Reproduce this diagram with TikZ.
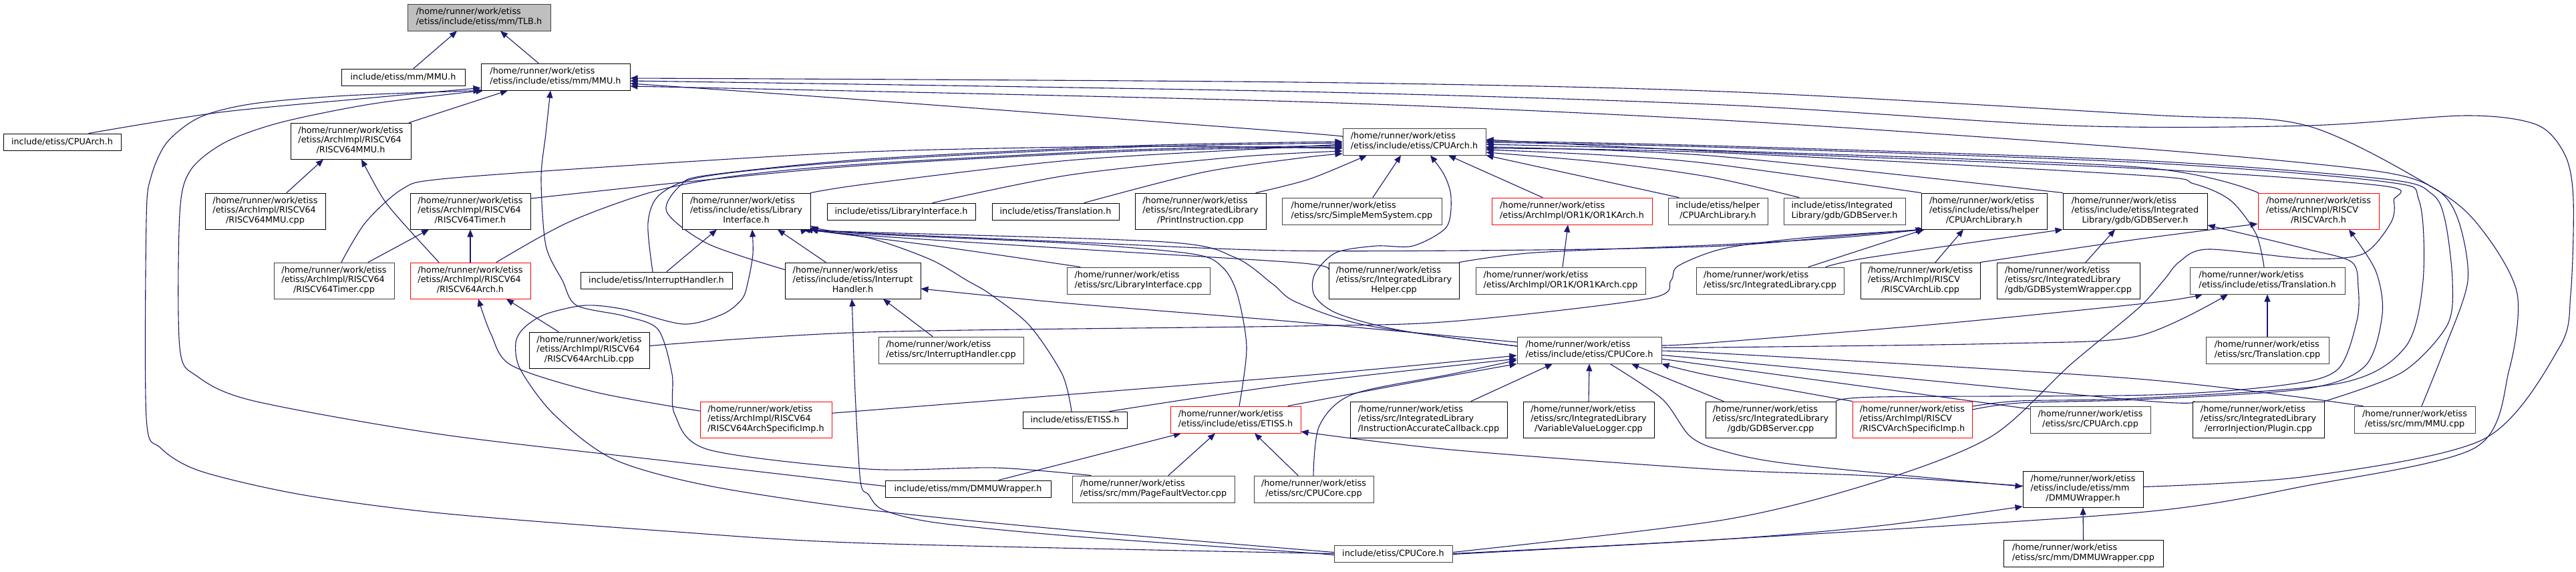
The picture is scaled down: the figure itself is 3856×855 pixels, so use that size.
\documentclass[tikz,border=0pt]{standalone}
\usepackage{fontspec}
\setmainfont{DejaVu Sans}
\usetikzlibrary{arrows.meta}
\definecolor{edgeblue}{HTML}{191970}
\definecolor{bordergrey}{HTML}{404040}
\definecolor{tlbgrey}{HTML}{BFBFBF}
\newcommand\nodefont{\fontsize{12.8}{14.3}\selectfont}
\newcommand\tlines[1]{\begin{tabular}{@{}l@{}}#1\end{tabular}}
\newcommand\lastl[1]{\multicolumn{1}{@{}c@{}}{#1}}
\newcommand\gnode[7]{\node[#6,minimum width=#4pt,minimum height=#5pt] (#1) at (#2,#3) {#7};}
\pgfdeclarelayer{bg}\pgfdeclarelayer{edges}\pgfsetlayers{bg,edges,main}
\begin{document}
\begin{tikzpicture}[x=1pt,y=-1pt,
  box/.style={draw=black, fill=white, line width=1pt, inner sep=1pt, font=\nodefont, text=black},
  gbox/.style={box, draw=bordergrey},
  rbox/.style={box, draw=red},
  tbox/.style={box, draw=bordergrey, fill=tlbgrey},
  dep/.style={draw=edgeblue, line width=1.1pt, line cap=round, line join=round, -{Triangle[length=11pt,width=9pt]}}]
\begin{pgfonlayer}{bg}\fill[white] (0,0) rectangle (3856,855);\end{pgfonlayer}
\useasboundingbox (0,0) rectangle (3856,855);
% ---------------- nodes
\gnode{tlb}{717}{26}{214}{40}{tbox}{\tlines{/home/runner/work/etiss\\\lastl{/etiss/include/etiss/mm/TLB.h}}}
\gnode{mmuinc}{603.5}{115.5}{185}{25}{box}{include/etiss/mm/MMU.h}
\gnode{mmu}{831.5}{115}{223}{40}{box}{\tlines{/home/runner/work/etiss\\\lastl{/etiss/include/etiss/mm/MMU.h}}}
\gnode{cpuarchinc}{93}{212.5}{176}{25}{box}{include/etiss/CPUArch.h}
\gnode{rv64mmuh}{525}{211}{180}{54}{box}{\tlines{/home/runner/work/etiss\\/etiss/ArchImpl/RISCV64\\\lastl{/RISCV64MMU.h}}}
\gnode{cpuarch}{2117}{212}{214}{40}{gbox}{\tlines{/home/runner/work/etiss\\\lastl{/etiss/include/etiss/CPUArch.h}}}
\gnode{rv64mmucpp}{397}{316}{180}{54}{box}{\tlines{/home/runner/work/etiss\\/etiss/ArchImpl/RISCV64\\\lastl{/RISCV64MMU.cpp}}}
\gnode{rv64timerh}{704}{316}{180}{54}{box}{\tlines{/home/runner/work/etiss\\/etiss/ArchImpl/RISCV64\\\lastl{/RISCV64Timer.h}}}
\gnode{libif}{1117}{316}{192}{54}{box}{\tlines{/home/runner/work/etiss\\/etiss/include/etiss/Library\\\lastl{Interface.h}}}
\gnode{libifinc}{1349}{316.5}{222}{25}{box}{include/etiss/LibraryInterface.h}
\gnode{transinc}{1580}{316.5}{190}{25}{box}{include/etiss/Translation.h}
\gnode{printinstr}{1797}{316}{196}{54}{box}{\tlines{/home/runner/work/etiss\\/etiss/src/IntegratedLibrary\\\lastl{/PrintInstruction.cpp}}}
\gnode{simplemem}{2038.5}{316}{239}{40}{gbox}{\tlines{/home/runner/work/etiss\\\lastl{/etiss/src/SimpleMemSystem.cpp}}}
\gnode{or1karch}{2353}{316}{240}{40}{rbox}{\tlines{/home/runner/work/etiss\\\lastl{/etiss/ArchImpl/OR1K/OR1KArch.h}}}
\gnode{cpuarchlibinc}{2571.5}{316}{149}{40}{gbox}{\tlines{include/etiss/helper\\\lastl{/CPUArchLibrary.h}}}
\gnode{gdbserverinc}{2761}{316}{182}{40}{gbox}{\tlines{include/etiss/Integrated\\\lastl{Library/gdb/GDBServer.h}}}
\gnode{cpuarchlib}{2970}{316}{188}{54}{box}{\tlines{/home/runner/work/etiss\\/etiss/include/etiss/helper\\\lastl{/CPUArchLibrary.h}}}
\gnode{gdbserverh}{3196}{316}{216}{54}{box}{\tlines{/home/runner/work/etiss\\/etiss/include/etiss/Integrated\\\lastl{Library/gdb/GDBServer.h}}}
\gnode{riscvarch}{3470.5}{316}{181}{54}{rbox}{\tlines{/home/runner/work/etiss\\/etiss/ArchImpl/RISCV\\\lastl{/RISCVArch.h}}}
\gnode{rv64timercpp}{500}{420}{180}{54}{gbox}{\tlines{/home/runner/work/etiss\\/etiss/ArchImpl/RISCV64\\\lastl{/RISCV64Timer.cpp}}}
\gnode{rv64arch}{704}{420}{180}{54}{rbox}{\tlines{/home/runner/work/etiss\\/etiss/ArchImpl/RISCV64\\\lastl{/RISCV64Arch.h}}}
\gnode{intrinc}{982.5}{419.5}{227}{25}{box}{include/etiss/InterruptHandler.h}
\gnode{intr}{1276.5}{420}{203}{54}{box}{\tlines{/home/runner/work/etiss\\/etiss/include/etiss/Interrupt\\\lastl{Handler.h}}}
\gnode{libifcpp}{1704}{420}{214}{40}{gbox}{\tlines{/home/runner/work/etiss\\\lastl{/etiss/src/LibraryInterface.cpp}}}
\gnode{ilhelper}{2086.5}{420}{195}{54}{box}{\tlines{/home/runner/work/etiss\\/etiss/src/IntegratedLibrary\\\lastl{Helper.cpp}}}
\gnode{or1kcpp}{2336}{420}{254}{40}{gbox}{\tlines{/home/runner/work/etiss\\\lastl{/etiss/ArchImpl/OR1K/OR1KArch.cpp}}}
\gnode{ilcpp}{2649.5}{420}{221}{40}{gbox}{\tlines{/home/runner/work/etiss\\\lastl{/etiss/src/IntegratedLibrary.cpp}}}
\gnode{riscvarchlib}{2874.5}{420}{179}{54}{box}{\tlines{/home/runner/work/etiss\\/etiss/ArchImpl/RISCV\\\lastl{/RISCVArchLib.cpp}}}
\gnode{gdbsyswrap}{3096}{420}{214}{54}{box}{\tlines{/home/runner/work/etiss\\/etiss/src/IntegratedLibrary\\\lastl{/gdb/GDBSystemWrapper.cpp}}}
\gnode{trans}{3394}{420}{232}{40}{gbox}{\tlines{/home/runner/work/etiss\\\lastl{/etiss/include/etiss/Translation.h}}}
\gnode{rv64archlib}{882}{524}{180}{54}{box}{\tlines{/home/runner/work/etiss\\/etiss/ArchImpl/RISCV64\\\lastl{/RISCV64ArchLib.cpp}}}
\gnode{intrcpp}{1423.5}{524}{217}{40}{gbox}{\tlines{/home/runner/work/etiss\\\lastl{/etiss/src/InterruptHandler.cpp}}}
\gnode{cpucore}{2379}{524}{216}{40}{gbox}{\tlines{/home/runner/work/etiss\\\lastl{/etiss/include/etiss/CPUCore.h}}}
\gnode{transcpp}{3394}{524}{184}{40}{gbox}{\tlines{/home/runner/work/etiss\\\lastl{/etiss/src/Translation.cpp}}}
\gnode{rv64spec}{1146.5}{628}{197}{54}{rbox}{\tlines{/home/runner/work/etiss\\/etiss/ArchImpl/RISCV64\\\lastl{/RISCV64ArchSpecificImp.h}}}
\gnode{etissinc}{1609}{628.5}{156}{25}{box}{include/etiss/ETISS.h}
\gnode{etiss}{1849.5}{628}{195}{40}{rbox}{\tlines{/home/runner/work/etiss\\\lastl{/etiss/include/etiss/ETISS.h}}}
\gnode{iacb}{2138.5}{628}{235}{54}{box}{\tlines{/home/runner/work/etiss\\/etiss/src/IntegratedLibrary\\\lastl{/InstructionAccurateCallback.cpp}}}
\gnode{vvl}{2378}{628}{196}{54}{box}{\tlines{/home/runner/work/etiss\\/etiss/src/IntegratedLibrary\\\lastl{/VariableValueLogger.cpp}}}
\gnode{gdbservercpp}{2650.5}{628}{195}{54}{box}{\tlines{/home/runner/work/etiss\\/etiss/src/IntegratedLibrary\\\lastl{/gdb/GDBServer.cpp}}}
\gnode{riscvspec}{2862.5}{628}{179}{54}{rbox}{\tlines{/home/runner/work/etiss\\/etiss/ArchImpl/RISCV\\\lastl{/RISCVArchSpecificImp.h}}}
\gnode{cpuarchcpp}{3129}{628}{180}{40}{gbox}{\tlines{/home/runner/work/etiss\\\lastl{/etiss/src/CPUArch.cpp}}}
\gnode{plugin}{3380.5}{628}{197}{54}{box}{\tlines{/home/runner/work/etiss\\/etiss/src/IntegratedLibrary\\\lastl{/errorInjection/Plugin.cpp}}}
\gnode{mmucpp}{3614.5}{628}{181}{40}{gbox}{\tlines{/home/runner/work/etiss\\\lastl{/etiss/src/mm/MMU.cpp}}}
\gnode{dmmuinc}{1449}{731.5}{248}{25}{box}{include/etiss/mm/DMMUWrapper.h}
\gnode{pfv}{1726.5}{732}{243}{40}{gbox}{\tlines{/home/runner/work/etiss\\\lastl{/etiss/src/mm/PageFaultVector.cpp}}}
\gnode{cpucorecpp}{1966.5}{732}{179}{40}{gbox}{\tlines{/home/runner/work/etiss\\\lastl{/etiss/src/CPUCore.cpp}}}
\gnode{dmmu}{3118}{732}{180}{54}{box}{\tlines{/home/runner/work/etiss\\/etiss/include/etiss/mm\\\lastl{/DMMUWrapper.h}}}
\gnode{cpucoreinc}{2085.5}{828.5}{177}{25}{gbox}{include/etiss/CPUCore.h}
\gnode{dmmucpp}{3118.5}{828}{239}{40}{box}{\tlines{/home/runner/work/etiss\\\lastl{/etiss/src/mm/DMMUWrapper.cpp}}}
% ---------------- edges
\begin{pgfonlayer}{edges}
\draw[dep] ([xshift=15.5pt]mmuinc.north) -- ([xshift=-33pt]tlb.south);
\draw[dep] ([xshift=-25.5pt]mmu.north) -- ([xshift=32pt]tlb.south);
\draw[dep] plot[smooth] coordinates {([xshift=40pt]cpuarchinc.north) (330,168) (560,146) ([yshift=4pt]mmu.south west)};
\draw[dep] plot[smooth] coordinates {(cpucoreinc.west) (1300,813) (1000,795) (660,768) (450,740) (300,705) (240,670) (219,625) (219,330) (226,265) (250,213) (300,175) (380,155) (520,143) (mmu.south west)};
\draw[dep] plot[smooth] coordinates {([yshift=4pt]dmmuinc.west) (1000,690) (660,650) (380,600) (295,563) (269,520) (269,320) (285,255) (337,213) (421,183) (560,155) ([xshift=4pt]mmu.south west)};
\draw[dep] ([xshift=-3pt]rv64mmuh.north east) -- ([xshift=-71.5pt]mmu.south);
\draw[dep] plot[smooth] coordinates {([xshift=-93.5pt]pfv.north) (1490,700) (1300,702) (1061,673) (1010,620) (1006,560) (985,493) (935,473) (863,457) (842,420) (817,367) (810,267) (817,200) ([xshift=-7.5pt]mmu.south)};
\draw[dep] plot[smooth] coordinates {(cpucoreinc.east) (2580,807) (3200,767) (3452,727) (3705,670) (3756,553) (3768,440) (3720,350) (3652,287) (3453,188) (3220,172) (2580,137) (1940,123) ([yshift=-2pt]mmu.east)};
\draw[dep] plot[smooth] coordinates {([yshift=3.5pt]dmmu.east) (3452,713) (3718,657) (3831,520) (3848,440) (3852,300) (3840,233) (3798,187) (3692,173) (3453,188) (3099,188) (2580,157) (1940,137) ([yshift=-6pt]mmu.east)};
\draw[dep] plot[smooth] coordinates {([xshift=10.5pt]mmucpp.north) (3660,520) (3694,420) (3680,330) (3646,283) (3550,255) (3200,222) (2580,180) (1940,152) ([yshift=-14pt]mmu.east)};
\draw[dep] plot[smooth] coordinates {([yshift=7pt]cpuarch.west) (1940,198) (1300,150) ([yshift=-10pt]mmu.east)};
\draw[dep] ([xshift=32pt]rv64mmucpp.north) -- ([xshift=-41pt]rv64mmuh.south);
\draw[dep] plot[smooth] coordinates {([xshift=-47pt]rv64arch.north) (600,330) (572,295) ([xshift=16pt]rv64mmuh.south)};
\draw[dep] ([xshift=51pt]rv64timercpp.north) -- ([xshift=-62pt]rv64timerh.south);
\draw[dep] (rv64arch.north) -- (rv64timerh.south);
\draw[dep] ([xshift=-46pt]rv64archlib.north) -- ([xshift=54pt]rv64arch.south);
\draw[dep] plot[smooth] coordinates {([yshift=13pt]rv64spec.west) (892,587) (766,547) (735,500) ([xshift=12pt]rv64arch.south)};
\draw[dep] plot[smooth] coordinates {([xshift=11pt]rv64timercpp.north) (547,333) (602,283) (660,268) (935,248) (1300,227) (1700,219) ([yshift=-10pt]cpuarch.west)};
\draw[dep] plot[smooth] coordinates {([yshift=19pt]rv64timerh.east) (1019,273) (1300,247) (1700,226) ([yshift=-8pt]cpuarch.west)};
\draw[dep] plot[smooth] coordinates {([xshift=39pt]rv64arch.north) (850,333) (977,287) (1103,263) (1300,245) (1700,224) ([yshift=-6pt]cpuarch.west)};
\draw[dep] plot[smooth] coordinates {([xshift=-5.5pt]intrinc.north) (970,333) (989,290) (1061,263) (1300,240) (1700,220) ([yshift=-2pt]cpuarch.west)};
\draw[dep] plot[smooth] coordinates {([yshift=16.5pt]intr.west) (1060,365) (998,317) (1019,277) (1061,262) (1300,238) (1700,218) (cpuarch.west)};
\draw[dep] plot[smooth] coordinates {(libif.north east) (1300,275) (1600,240) (1900,222) ([yshift=-4pt]cpuarch.west)};
\draw[dep] plot[smooth] coordinates {([xshift=47pt]libifinc.north) (1600,262) (1850,235) ([yshift=-14pt]cpuarch.west)};
\draw[dep] plot[smooth] coordinates {([xshift=43pt]transinc.north) (1800,258) (1950,236) ([yshift=-18pt]cpuarch.west)};
\draw[dep] plot[smooth] coordinates {([xshift=83pt]printinstr.north) (1960,268) ([xshift=-71pt]cpuarch.south)};
\draw[dep] ([xshift=16.5pt]simplemem.north) -- ([xshift=-20pt]cpuarch.south);
\draw[dep] plot[smooth] coordinates {([yshift=6pt]cpucore.west) (2100,495) (2004,470) (1968,443) (1968,410) (2000,378) (2060,368) (2115,368) (2165,340) (2172,295) (2162,262) ([xshift=24pt]cpuarch.south)};
\draw[dep] ([xshift=-44pt]or1karch.north) -- ([xshift=51pt]cpuarch.south);
\draw[dep] ([xshift=-58.5pt]cpuarchlibinc.north) -- (cpuarch.south east);
\draw[dep] plot[smooth] coordinates {([xshift=-68pt]gdbserverinc.north) (2560,265) (2400,243) ([yshift=-16pt]cpuarch.east)};
\draw[dep] plot[smooth] coordinates {(cpuarchlib.north west) (2560,245) (2400,232) ([yshift=-12pt]cpuarch.east)};
\draw[dep] plot[smooth] coordinates {(gdbserverh.north west) (2560,233) ([yshift=-8pt]cpuarch.east)};
\draw[dep] plot[smooth] coordinates {([xshift=1pt]riscvarch.north west) (3200,250) (2560,225) ([yshift=-4pt]cpuarch.east)};
\draw[dep] plot[smooth] coordinates {([yshift=20pt]riscvspec.east) (3023,600) (3200,596) (3500,574) (3600,520) (3627,420) (3621,300) (3570,272) (3200,243) (2560,220) ([yshift=-1pt]cpuarch.east)};
\draw[dep] plot[smooth] coordinates {([yshift=15pt]riscvspec.east) (3023,603) (3200,598) (3450,582) (3540,548) (3566,470) (3556,405) ([xshift=45.5pt]riscvarch.south)};
\draw[dep] plot[smooth] coordinates {(plugin.north east) (3596,557) (3663,487) (3671,420) (3660,330) (3640,290) (3570,268) (3200,240) (2560,218) ([yshift=1pt]cpuarch.east)};
\draw[dep] plot[smooth] coordinates {([xshift=-5pt]trans.north) (3377,350) (3339,300) (3284,275) (3200,262) (2560,228) ([yshift=-10pt]cpuarch.east)};
\draw[dep] plot[smooth] coordinates {([yshift=2pt]cpucoreinc.east) (2580,778) (2812,720) (2981,653) (3100,545) (3200,462) (3240,418) (3262,392) (3305,373) (3453,387) (3537,380) (3579,333) (3583,300) (3566,278) (3200,252) (2560,226) ([yshift=3pt]cpuarch.east)};
\draw[dep] plot[smooth] coordinates {([yshift=7pt]cpucore.east) (2560,513) (2900,485) (3220,453) ([xshift=-97pt]trans.south)};
\draw[dep] plot[smooth] coordinates {([yshift=4pt]cpucore.east) (2560,520) (3000,514) (3200,503) ([xshift=-59pt]trans.south)};
\draw[dep] (transcpp.north) -- (trans.south);
\draw[dep] plot[smooth] coordinates {(gdbservercpp.north east) (2812,594) (3220,591) (3420,576) (3499,553) (3528,480) (3530,430) (3520,392) (3450,372) ([yshift=-21pt]gdbserverh.east)};
\draw[dep] plot[smooth] coordinates {(riscvarchlib.north east) (3200,358) ([yshift=-19pt]riscvarch.west)};
\draw[dep] ([xshift=22.5pt]riscvarchlib.north) -- ([xshift=-31pt]cpuarchlib.south);
\draw[dep] ([xshift=26pt]gdbsyswrap.north) -- ([xshift=-30pt]gdbserverh.south);
\draw[dep] plot[smooth] coordinates {([xshift=83.5pt]ilcpp.north) (2800,385) (gdbserverh.south west)};
\draw[dep] ([xshift=57.5pt]ilcpp.north) -- ([xshift=-90pt]cpuarchlib.south);
\draw[dep] plot[smooth] coordinates {(ilhelper.north east) (2299,378) (2580,366) (2750,356) ([xshift=3pt]cpuarchlib.south west)};
\draw[dep] plot[smooth] coordinates {([yshift=6.5pt]rv64archlib.east) (1300,497) (1940,488) (2172,481) (2467,447) (2501,420) (2512,398) (2580,372) (2700,356) ([xshift=6pt]cpuarchlib.south west)};
\draw[dep] plot[smooth] coordinates {([xshift=-2pt]cpuarchlib.south west) (2760,353) (2580,368) (2300,374) (1920,375) (1600,362) (1280,348) (libif.south east)};
\draw[dep] plot[smooth] coordinates {([yshift=17.5pt]ilhelper.west) (1940,393) (1600,372) (1280,351) ([yshift=-25pt]libif.east)};
\draw[dep] plot[smooth] coordinates {([yshift=6pt]cpucore.west) (2046,487) (1940,452) (1905,425) (1848,385) (1743,362) (1280,347) ([xshift=-4pt]libif.south east)};
\draw[dep] plot[smooth] coordinates {([xshift=-87pt]libifcpp.north) (1400,368) ([xshift=-8pt]libif.south east)};
\draw[dep] plot[smooth] coordinates {([xshift=-5pt]etissinc.north) (1590,560) (1541,487) (1482,440) (1448,420) (1392,388) (1300,356) ([xshift=-12pt]libif.south east)};
\draw[dep] plot[smooth] coordinates {([xshift=5.5pt]etiss.north) (1866,520) (1852,440) (1830,400) (1785,380) (1600,364) (1280,349) ([yshift=-22pt]libif.east)};
\draw[dep] ([xshift=15.5pt]intrinc.north) -- ([xshift=-44pt]libif.south);
\draw[dep] ([xshift=-40.5pt]intr.north) -- ([xshift=47pt]libif.south);
\draw[dep] plot[smooth] coordinates {([yshift=2pt]cpucoreinc.west) (1600,793) (1300,763) (1061,727) (918,687) (829,620) (779,553) (772,513) (785,490) (817,470) (876,457) (935,463) (1023,485) (1082,470) (1111,447) (1120,420) (1127,380) ([xshift=9pt]libif.south)};
\draw[dep] plot[smooth] coordinates {([yshift=-2pt]cpucoreinc.west) (1940,826) (1600,802) (1400,782) (1322,763) (1300,740) (1288,720) (1280,587) (1276,470) ([xshift=-1.5pt]intr.south)};
\draw[dep] ([xshift=-27.5pt]intrcpp.north) -- ([xshift=45.5pt]intr.south);
\draw[dep] plot[smooth] coordinates {([yshift=12pt]cpucore.west) (1920,480) (1600,454) ([yshift=-12pt]intr.east)};
\draw[dep] ([xshift=46pt]dmmuinc.north) -- ([xshift=-81.5pt]etiss.south);
\draw[dep] ([xshift=22.5pt]pfv.north) -- ([xshift=-30.5pt]etiss.south);
\draw[dep] ([xshift=-23.5pt]cpucorecpp.north) -- ([xshift=28.5pt]etiss.south);
\draw[dep] plot[smooth] coordinates {([yshift=5pt]dmmu.west) (2800,712) (2560,702) (2172,673) ([yshift=-18pt]etiss.east)};
\draw[dep] plot[smooth] coordinates {([xshift=31pt]cpucore.south) (2488,597) (2530,653) (2580,675) (2686,695) ([yshift=4pt]dmmu.west)};
\draw[dep] plot[smooth] coordinates {([yshift=-1pt]cpucoreinc.east) (2580,807) (2812,787) ([yshift=-26pt]dmmu.west)};
\draw[dep] (dmmucpp.north) -- (dmmu.south);
\draw[dep] plot[smooth] coordinates {([xshift=52pt]etissinc.north) (1940,574) ([yshift=-13pt]cpucore.west)};
\draw[dep] plot[smooth] coordinates {([yshift=10pt]rv64spec.east) (1300,614) (1940,563) ([yshift=-8pt]cpucore.west)};
\draw[dep] plot[smooth] coordinates {([xshift=78.5pt]etiss.north) (2100,575) (cpucore.south west)};
\draw[dep] plot[smooth] coordinates {([xshift=-0.5pt]cpucorecpp.north) (1975,637) (2025,590) (2172,560) ([yshift=-15pt]cpucore.west)};
\draw[dep] ([xshift=63.5pt]iacb.north) -- ([xshift=-55pt]cpucore.south);
\draw[dep] (vvl.north) -- (cpucore.south);
\draw[dep] ([xshift=-70.5pt]gdbservercpp.north) -- ([xshift=63pt]cpucore.south);
\draw[dep] plot[smooth] coordinates {(riscvspec.north west) (2560,562) (cpucore.south east)};
\draw[dep] plot[smooth] coordinates {([yshift=16pt]cpuarchcpp.west) (2560,547) ([yshift=-13pt]cpucore.east)};
\draw[dep] plot[smooth] coordinates {([xshift=-96.5pt]plugin.north) (3200,599) (2560,538) ([yshift=-8pt]cpucore.east)};
\draw[dep] plot[smooth] coordinates {([xshift=-77.5pt]mmucpp.north) (3200,567) (2560,528) ([yshift=-3pt]cpucore.east)};
\draw[dep] ([xshift=3pt]or1kcpp.north) -- ([xshift=-6pt]or1karch.south);
\end{pgfonlayer}
\end{tikzpicture}
\end{document}
